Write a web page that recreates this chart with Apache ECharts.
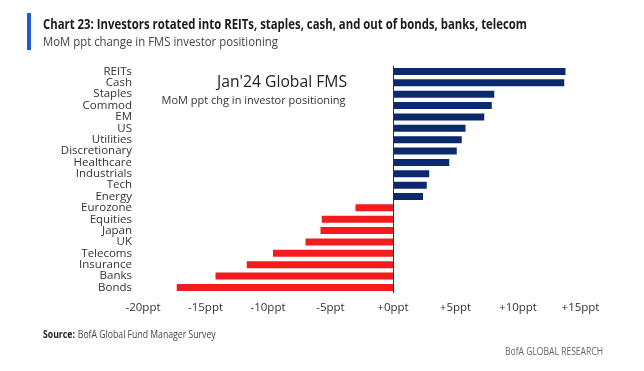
<!DOCTYPE html>
<html>
<head>
<meta charset="utf-8">
<script src="https://cdn.jsdelivr.net/npm/echarts@6/dist/echarts.min.js"></script>
<style>html,body{margin:0;padding:0;background:#fff;}#c{width:644px;height:371px;}</style>
</head>
<body>
<div id="c"></div>
<script>
var categories = ['REITs','Cash','Staples','Commod','EM','US','Utilities','Discretionary','Healthcare','Industrials','Tech','Energy','Eurozone','Equities','Japan','UK','Telecoms','Insurance','Banks','Bonds'];
var values = [13.8,13.7,8.1,7.9,7.3,5.8,5.5,5.1,4.5,2.9,2.7,2.4,-3.0,-5.7,-5.8,-7.0,-9.6,-11.7,-14.2,-17.3];
var xTicks = {min: -20, max: 15, interval: 5};
var titleText = 'Chart 23: Investors rotated into REITs, staples, cash, and out of bonds, banks, telecom';
var subtitleText = 'MoM ppt change in FMS investor positioning';
var insetTitle = "Jan'24 Global FMS";
var insetSub = 'MoM ppt chg in investor positioning';

var font = '"Open Sans", "Noto Sans", sans-serif';
var ctx = document.createElement('canvas').getContext('2d');
function fit(text, f, target) {
  ctx.font = f;
  var w = ctx.measureText(text).width;
  return Math.min(1, target / w);
}

var chart = echarts.init(document.getElementById('c'));
var tFont = 'bold 14px ' + font;
var sFont = '12.5px ' + font;
var srcPlain = 'BofA Global Fund Manager Survey';
var srcScale = (function () {
  ctx.font = 'bold 10px ' + font; var a = ctx.measureText('Source: ').width;
  ctx.font = '10px ' + font; var b = ctx.measureText(srcPlain).width;
  return Math.min(1, 172 / (a + b));
})();
chart.setOption({
  animation: false,
  backgroundColor: '#fff',
  grid: {left: 143, right: 63.5, top: 65.8, bottom: 77.9},
  xAxis: {
    type: 'value', min: xTicks.min, max: xTicks.max, interval: xTicks.interval,
    splitLine: {show: false}, axisLine: {show: false}, axisTick: {show: false},
    axisLabel: {
      fontFamily: font, fontSize: 11.5, color: '#333', margin: 9,
      formatter: function (v) { return (v >= 0 ? '+' : '') + v + 'ppt'; }
    }
  },
  yAxis: {
    type: 'category', data: categories, inverse: true,
    axisLine: {show: false}, axisTick: {show: false},
    axisLabel: {interval: 0, fontFamily: font, fontSize: 11.5, color: '#333', margin: 11, lineHeight: 11}
  },
  series: [{
    type: 'bar', data: values, barWidth: 7,
    itemStyle: {color: function (p) { return p.value >= 0 ? '#0b2a6e' : '#f21c1c'; }},
    markLine: {
      silent: true, symbol: 'none', label: {show: false},
      lineStyle: {color: '#333', width: 1, type: 'solid'},
      data: [{xAxis: 0}]
    }
  }],
  graphic: [
    {type: 'rect', shape: {x: 27, y: 13, width: 4, height: 37}, style: {fill: '#1f5bd0'}},
    {type: 'text', x: 43, y: 25, scaleX: fit(titleText, tFont, 484), style: {text: titleText, font: tFont, fill: '#1a1a1a', textVerticalAlign: 'middle'}},
    {type: 'text', x: 43, y: 42.5, scaleX: fit(subtitleText, sFont, 235), style: {text: subtitleText, font: sFont, fill: '#444', textVerticalAlign: 'middle'}},
    {type: 'text', x: 347, y: 83, style: {text: insetTitle, font: '15.7px ' + font, fill: '#222', textAlign: 'right', textVerticalAlign: 'middle'}},
    {type: 'text', x: 345.5, y: 100.5, style: {text: insetSub, font: '11px ' + font, fill: '#333', textAlign: 'right', textVerticalAlign: 'middle'}},
    {type: 'text', x: 43, y: 335, scaleX: srcScale, style: {rich: {b: {font: 'bold 10px ' + font, fill: '#222'}, n: {font: '10px ' + font, fill: '#444'}}, text: '{b|Source:} {n|' + srcPlain + '}', textVerticalAlign: 'middle'}},
    {type: 'text', x: 603, y: 352, scaleX: fit('BofA GLOBAL RESEARCH', '10px ' + font, 98), style: {text: 'BofA GLOBAL RESEARCH', font: '10px ' + font, fill: '#666', textAlign: 'right', textVerticalAlign: 'middle'}}
  ]
});
</script>
</body>
</html>
